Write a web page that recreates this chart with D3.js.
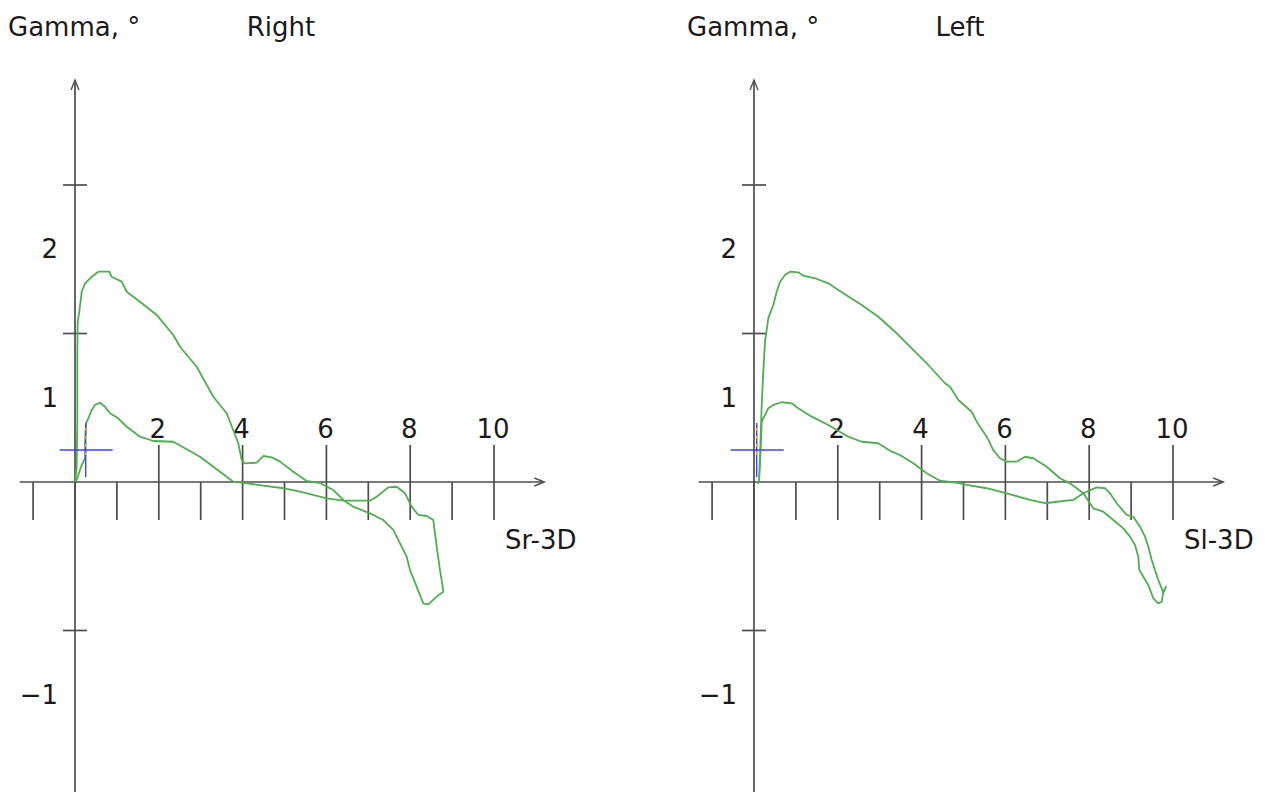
<!DOCTYPE html>
<html>
<head>
<meta charset="utf-8">
<script src="https://cdn.jsdelivr.net/npm/d3@7"></script>
<style>
  body { margin: 0; background: #fff; }
  svg { display: block; }
  text { font-family: "DejaVu Sans", Verdana, sans-serif; font-size: 26px; fill: #1a1a1a; }
</style>
</head>
<body>
<svg id="chart" width="1272" height="792"></svg>
<script>
// axis ticks
const xTicks = [-1, 0, 1, 2, 3, 4, 5, 6, 7, 8, 9, 10];
const xLabels = [2, 4, 6, 8, 10];
const yTicks = [2, 1, -1];
const yLabels = ["2", "1", "\u22121"];

// Sr-3D vs gamma, right side (one closed loop)
const rightLoop = [
  [0, 0], [0.04, 0.094], [0.055, 0.406], [0.055, 0.855], [0.064, 1.079], [0.103, 1.147],
  [0.16, 1.281], [0.239, 1.338], [0.399, 1.382], [0.556, 1.416], [0.819, 1.416], [0.876, 1.382],
  [1.115, 1.349], [1.234, 1.281], [1.551, 1.214], [1.95, 1.125], [2.346, 0.99], [2.506, 0.911],
  [2.904, 0.776], [3.301, 0.574], [3.621, 0.463], [3.897, 0.261], [3.979, 0.148], [4.057, 0.126],
  [4.337, 0.13], [4.494, 0.175], [4.695, 0.166], [4.893, 0.137], [5.21, 0.069], [5.53, 0.007],
  [5.847, -0.007], [6.165, -0.054], [6.403, -0.121], [6.642, -0.166], [7.041, -0.211], [7.358, -0.256],
  [7.597, -0.323], [7.757, -0.413], [7.916, -0.503], [7.995, -0.593], [8.155, -0.705], [8.313, -0.817],
  [8.432, -0.824], [8.632, -0.772], [8.79, -0.739], [8.775, -0.705], [8.711, -0.593], [8.632, -0.436],
  [8.551, -0.256], [8.394, -0.229], [8.193, -0.222], [8.036, -0.166], [7.876, -0.076], [7.678, -0.032],
  [7.477, -0.036], [7.2, -0.099], [7.041, -0.126], [6.403, -0.126], [6.007, -0.11], [5.37, -0.065],
  [4.971, -0.042], [4.494, -0.025], [4.017, -0.005], [3.778, 0.002], [3.461, 0.069], [2.983, 0.17],
  [2.346, 0.271], [1.869, 0.276], [1.551, 0.305], [1.234, 0.372], [1.033, 0.429], [0.835, 0.463],
  [0.716, 0.507], [0.597, 0.534], [0.477, 0.519], [0.399, 0.485], [0.317, 0.429], [0.263, 0.395],
  [0.239, 0.271], [0.239, 0.16], [0.16, 0.114], [0.079, 0.047], [0.024, 0.002]
];

// Sl-3D vs gamma, left side
const leftLoop = [
  [0.119, 0.002], [0.143, 0.182], [0.184, 0.519], [0.222, 0.743], [0.263, 0.945], [0.341, 1.102],
  [0.461, 1.192], [0.542, 1.281], [0.621, 1.349], [0.74, 1.394], [0.859, 1.416], [1.057, 1.412],
  [1.177, 1.389], [1.456, 1.372], [1.773, 1.338], [2.012, 1.293], [2.57, 1.192], [2.967, 1.113],
  [3.365, 1.012], [3.764, 0.9], [4.16, 0.788], [4.558, 0.665], [4.678, 0.642], [4.876, 0.552],
  [5.196, 0.473], [5.315, 0.406], [5.554, 0.305], [5.711, 0.215], [5.871, 0.16], [6.031, 0.137],
  [6.27, 0.137], [6.468, 0.17], [6.666, 0.16], [6.986, 0.103], [7.303, 0.025], [7.542, -0.009],
  [7.859, -0.076], [8.098, -0.177], [8.337, -0.2], [8.575, -0.256], [8.814, -0.312], [8.974, -0.368],
  [9.093, -0.424], [9.172, -0.503], [9.196, -0.593], [9.291, -0.638], [9.411, -0.694], [9.53, -0.783],
  [9.649, -0.817], [9.731, -0.806], [9.769, -0.739], [9.833, -0.705], [9.769, -0.749], [9.731, -0.716],
  [9.649, -0.66], [9.57, -0.593], [9.492, -0.525], [9.411, -0.436], [9.332, -0.368], [9.212, -0.301],
  [9.053, -0.234], [8.895, -0.222], [8.656, -0.143], [8.496, -0.076], [8.377, -0.042], [8.179, -0.036],
  [7.859, -0.076], [7.62, -0.121], [7.224, -0.133], [6.945, -0.143], [6.587, -0.121], [6.031, -0.076],
  [5.554, -0.042], [5.076, -0.02], [4.838, -0.005], [4.439, 0.009], [4.122, 0.059], [3.802, 0.126],
  [3.484, 0.182], [3.286, 0.204], [2.967, 0.261], [2.57, 0.271], [2.251, 0.305], [1.773, 0.384],
  [1.377, 0.44], [1.057, 0.496], [0.9, 0.53], [0.661, 0.537], [0.461, 0.519], [0.341, 0.496],
  [0.263, 0.451], [0.184, 0.406], [0.167, 0.271], [0.143, 0.114], [0.119, 0.002], [0.095, -0.013]
];

// current position marker (cross) for each side
const rightMarker = [0.255, 0.215];
const leftMarker = [0.064, 0.215];

const svg = d3.select('#chart');
const axisColor = '#4d4d4d';
const curveColor = '#4fae4f';

function drawPanel(x0, loop, marker, title, xName) {
  const x = d3.scaleLinear().domain([0, 10]).range([x0, x0 + 419]);
  const y = d3.scaleLinear().domain([0, 1]).range([482, 333.5]);
  const g = svg.append('g');

  // x axis with arrow
  const xEnd = x(11.2);
  g.append('line')
    .attr('x1', x(-1.32)).attr('x2', xEnd)
    .attr('y1', y(0)).attr('y2', y(0))
    .attr('stroke', axisColor).attr('stroke-width', 1.7);
  g.append('path')
    .attr('d', `M${xEnd - 10},${y(0) - 4}L${xEnd},${y(0)}L${xEnd - 10},${y(0) + 4}`)
    .attr('fill', 'none').attr('stroke', axisColor).attr('stroke-width', 1.4);

  // y axis with arrow
  const yTop = y(2.707);
  g.append('line')
    .attr('x1', x(0)).attr('x2', x(0))
    .attr('y1', yTop).attr('y2', 800)
    .attr('stroke', axisColor).attr('stroke-width', 1.7);
  g.append('path')
    .attr('d', `M${x(0) - 4},${yTop + 10}L${x(0)},${yTop}L${x(0) + 4},${yTop + 10}`)
    .attr('fill', 'none').attr('stroke', axisColor).attr('stroke-width', 1.4);

  // x ticks: all below the axis, labelled ones also above
  g.selectAll('line.xt')
    .data(xTicks)
    .enter().append('line')
    .attr('class', 'xt')
    .attr('x1', d => x(d)).attr('x2', d => x(d))
    .attr('y1', d => xLabels.includes(d) ? y(0) - 37 : y(0))
    .attr('y2', y(0) + 38)
    .attr('stroke', axisColor).attr('stroke-width', 1.7);

  g.selectAll('text.xl')
    .data(xLabels)
    .enter().append('text')
    .attr('class', 'xl')
    .attr('x', d => x(d) - 1)
    .attr('y', y(0) - 44)
    .attr('text-anchor', 'middle')
    .text(d => d);

  // y ticks
  g.selectAll('line.yt')
    .data(yTicks)
    .enter().append('line')
    .attr('class', 'yt')
    .attr('x1', x(0) - 12).attr('x2', x(0) + 12)
    .attr('y1', d => y(d)).attr('y2', d => y(d))
    .attr('stroke', axisColor).attr('stroke-width', 1.7);

  g.selectAll('text.yl')
    .data(yTicks)
    .enter().append('text')
    .attr('class', 'yl')
    .attr('x', x(0) - 17)
    .attr('y', d => y(d) + 73)
    .attr('text-anchor', 'end')
    .text((d, i) => yLabels[i]);

  // titles
  g.append('text').attr('x', x0 - 67).attr('y', 36).text('Gamma, \u00b0');
  g.append('text').attr('x', x0 + 206).attr('y', 36).attr('text-anchor', 'middle').text(title);
  g.append('text').attr('x', x0 + 430).attr('y', 549).text(xName);

  // the loop
  const line = d3.line().x(d => x(d[0])).y(d => y(d[1]));
  g.append('path')
    .datum(loop)
    .attr('d', line)
    .attr('fill', 'none')
    .attr('stroke', curveColor)
    .attr('stroke-width', 1.8)
    .attr('stroke-linejoin', 'round');

  // cross marker
  const mx = x(marker[0]), my = y(marker[1]);
  g.append('line')
    .attr('x1', mx - 26).attr('x2', mx + 27).attr('y1', my).attr('y2', my)
    .attr('stroke', '#4040ff').attr('stroke-width', 1.4);
  g.append('line')
    .attr('x1', mx).attr('x2', mx).attr('y1', my - 27).attr('y2', my + 27)
    .attr('stroke', '#4040ff').attr('stroke-width', 1.4);
  g.append('line')
    .attr('x1', mx).attr('x2', mx).attr('y1', my - 22).attr('y2', my + 8)
    .attr('stroke', '#f0a030').attr('stroke-width', 1.6)
    .attr('stroke-dasharray', '3,5');
}

drawPanel(75, rightLoop, rightMarker, 'Right', 'Sr-3D');
drawPanel(754, leftLoop, leftMarker, 'Left', 'Sl-3D');
</script>
</body>
</html>
